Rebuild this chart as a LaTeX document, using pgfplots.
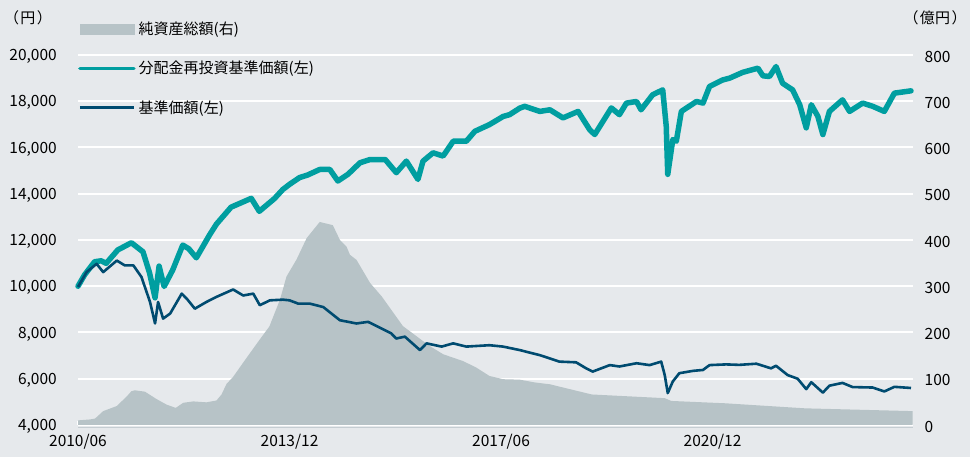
\documentclass[border=0pt]{standalone}
\usepackage{pgfplots}
\pgfplotsset{compat=1.18}
\usepackage{pgfplotstable}
\usepackage{fontspec}
\setmainfont{Noto Sans CJK JP}
\definecolor{bgc}{HTML}{E6E9EC}
\definecolor{areac}{HTML}{B7C3C7}
\definecolor{tealc}{HTML}{009EA0}
\definecolor{navyc}{HTML}{004B70}
\definecolor{axisgray}{HTML}{C5CDD2}

% months since 2010/06, net assets (100 million yen)
\pgfplotstableread{
m aum
0 10
2.4 12
3.4 14
5 30
7.7 41
9.7 62
10.6 73
11.3 75
13.3 72
15.6 56
17.6 44
19.4 37
20.9 48
22.9 51
25.5 49
27.5 53
28.5 66
29.5 89
30.8 104
33 138
36.1 185
38 213
40.1 271
41.4 321
43.4 358
45.4 404
48 439
50.6 432
52 400
53.3 386
54 368
55.3 357
58 307
60.3 278
62.6 243
64.5 214
67.2 192
69.8 171
72.5 153
76.5 138
79.1 124
81.7 106
84.4 99
87.7 98
90.7 92
93.7 88
102 66
116.5 58
117.8 52
128.4 47
131.3 45
144.4 36
165.7 30
}\aumtable

% NAV with dividends reinvested (yen)
\pgfplotstableread{
m v
0 10000
1.3 10490
3.3 11060
4.6 11100
5.6 10990
7.9 11570
10.6 11880
12.9 11490
14.2 10580
15.3 9500
16.1 10870
17.1 9990
18.8 10700
20.8 11780
22 11620
23.5 11230
26.1 12210
27.5 12690
30.4 13420
34.4 13800
36 13240
39 13790
40.7 14190
42.1 14420
44 14700
45.6 14810
48 15050
50 15050
51.6 14550
53.6 14840
56 15340
58 15480
61 15480
63.2 14910
65.2 15410
67.5 14620
68.5 15410
70.5 15770
72.5 15630
74.5 16270
77.1 16270
78.8 16700
81.7 16990
84.4 17340
85.7 17420
87.7 17700
88.7 17780
91.7 17560
93.7 17630
96.3 17280
99.3 17560
101.6 16770
102.6 16560
105.9 17710
107.5 17420
108.9 17920
110.9 17990
111.8 17630
114.1 18280
116.1 18490
116.8 16920
117.1 14840
118.1 16340
118.8 16270
119.8 17560
122.8 17990
124.1 17920
125.4 18640
128 18920
129.4 19000
132 19250
135 19430
136 19100
137.3 19070
138.6 19500
139.9 18780
141.9 18490
143.3 17850
144.6 16850
145.6 17850
146.9 17350
147.9 16560
149.2 17560
151.8 18060
153.2 17560
155.8 17920
157.8 17780
160.1 17560
162.1 18350
165.4 18450
}\reinvtable

% NAV (yen)
\pgfplotstableread{
m v
0 9970
1.7 10610
3.7 10970
5 10610
7.7 11110
9.3 10900
11 10900
12.6 10400
14.3 9320
15.3 8390
15.9 9320
16.9 8600
18.3 8820
20.6 9680
21.6 9460
23.2 9030
25.5 9320
27.5 9540
30.8 9860
32.8 9600
34.8 9680
36.1 9180
38.1 9390
40.7 9420
42 9390
43.7 9250
46 9250
48.7 9100
52 8530
55.3 8390
57.6 8460
60.3 8170
62.2 7960
63.2 7740
64.9 7820
67.9 7240
69.2 7530
72.2 7390
74.5 7530
77.1 7390
81.7 7450
84.4 7390
87.7 7240
91.7 7020
95.6 6740
98.9 6710
100.9 6450
102.2 6310
105.6 6590
107.5 6530
110.9 6670
113.5 6590
115.8 6740
116.5 6160
117.1 5380
118.1 5880
119.4 6240
122.1 6340
124.1 6380
125.4 6590
128.7 6620
131.3 6600
134.7 6650
137.6 6450
138.6 6560
140.9 6160
142.9 6000
144.6 5550
145.6 5850
147.9 5400
149.2 5700
151.8 5820
153.8 5640
157.8 5620
160.1 5450
162.1 5650
165.4 5600
}\navtable

\begin{document}
\begin{tikzpicture}[x=1bp,y=1bp]
\fill[bgc] (0,0) rectangle (970,457);
\path[use as bounding box] (0,0) rectangle (970,457);

% right axis: net assets
\begin{axis}[
  at={(78bp,32bp)}, anchor=south west,
  scale only axis, width=834.5bp, height=370bp,
  xmin=0, xmax=165.7, ymin=0, ymax=800,
  ytick={0,100,...,800},
  yticklabel pos=right,
  xtick={0,42,84,126},
  xticklabels={2010/06,2013/12,2017/06,2020/12},
  xtick pos=left,
  ymajorgrids, major grid style={white, line width=2bp},
  axis line style={draw=none},
  ytick style={draw=none},
  xtick style={white, line width=1.5bp},
  tick align=inside, major tick length=4bp,
  tick label style={font=\fontsize{15.5bp}{18bp}\selectfont, /pgf/number format/assume math mode=true},
  yticklabel style={inner xsep=0pt, xshift=12bp, yshift=-1.5bp},
  xticklabel style={inner ysep=0pt, yshift=-9bp},
  clip=false,
]
\addplot[fill=areac, draw=none] table[x=m, y=aum] {\aumtable} \closedcycle;
\draw[axisgray, line width=1.5bp] ([yshift=-2.5bp]rel axis cs:0,0) -- ([yshift=-2.5bp]rel axis cs:1,0);
\end{axis}

% left axis: NAV lines
\begin{axis}[
  at={(78bp,32bp)}, anchor=south west,
  scale only axis, width=834.5bp, height=370bp,
  xmin=0, xmax=165.7, ymin=4000, ymax=20000,
  ytick={4000,6000,...,20000},
  scaled y ticks=false,
  hide x axis,
  axis line style={draw=none},
  ytick style={draw=none},
  tick label style={font=\fontsize{15.5bp}{18bp}\selectfont, /pgf/number format/assume math mode=true},
  yticklabel style={inner xsep=0pt, xshift=-21bp, yshift=-1.5bp, /pgf/number format/1000 sep={,}},
  legend cell align=left,
  legend style={at={(0,1)}, anchor=north west, yshift=33bp, draw=none, fill=none,
    inner sep=0pt, row sep=26bp,
    nodes={inner sep=0pt, text height=12.4bp, text depth=1bp, font=\fontsize{15bp}{18bp}\selectfont},
    /tikz/every odd column/.append style={column sep=3bp}},
  clip=false,
]
\addlegendimage{legend image code/.code={\fill[areac] (0bp,-5bp) rectangle (54bp,5bp);}}
\addlegendentry{純資産総額(右)}
\addplot[tealc, line width=5.5bp, line join=round, line cap=round,
  legend image code/.code={\draw[tealc, line width=3.5bp] (0bp,0bp) -- (54bp,0bp);}]
  table[x=m, y=v] {\reinvtable};
\addlegendentry{分配金再投資基準価額(左)}
\addplot[navyc, line width=2.6bp, line join=round,
  legend image code/.code={\draw[navyc, line width=2.6bp] (0bp,0bp) -- (54bp,0bp);}]
  table[x=m, y=v] {\navtable};
\addlegendentry{基準価額(左)}
\end{axis}

\node[font=\fontsize{15bp}{18bp}\selectfont] at (28,438.7) {（\kern1.5bp 円\kern1.5bp ）};
\node[font=\fontsize{15bp}{18bp}\selectfont] at (935,438.7) {（\kern1.5bp 億円\kern1.5bp ）};
\end{tikzpicture}
\end{document}
